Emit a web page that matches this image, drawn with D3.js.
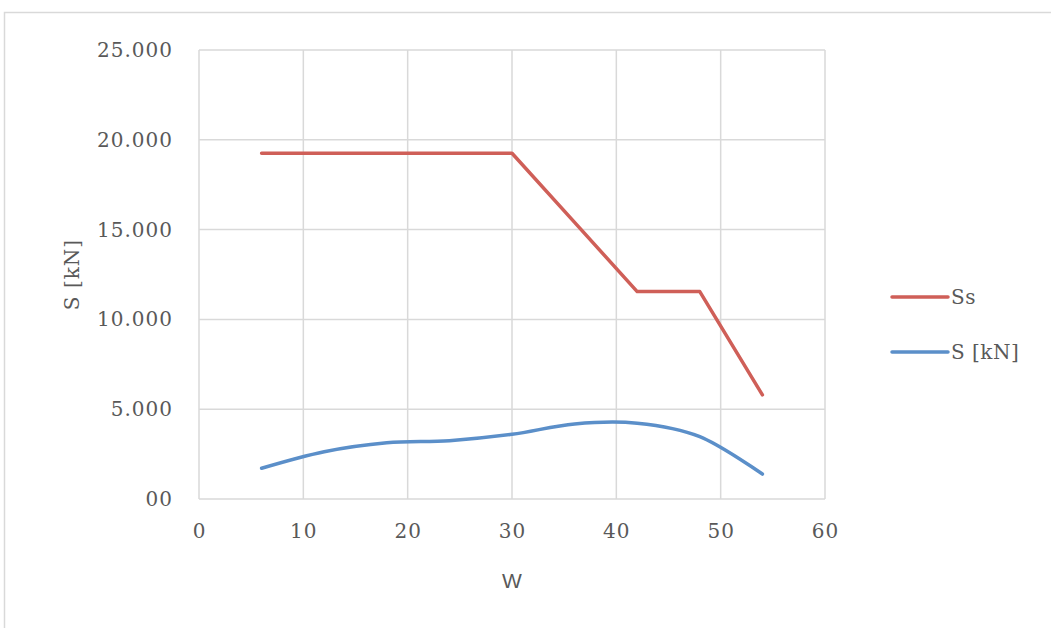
<!DOCTYPE html>
<html>
<head>
<meta charset="utf-8">
<script src="https://cdn.jsdelivr.net/npm/d3@7"></script>
<style>
  html, body { margin: 0; padding: 0; background: #fff; }
  svg { display: block; }
</style>
</head>
<body>
<svg id="chart" width="1051" height="628"></svg>
<script>
const wValues = [6, 12, 18, 24, 30, 36, 42, 48, 54];
const ssValues = [19250, 19250, 19250, 19250, 19250, 15400, 11550, 11550, 5800];
const sValues = [1710, 2630, 3130, 3250, 3600, 4180, 4220, 3470, 1390];
const xTicks = [0, 10, 20, 30, 40, 50, 60];
const yTicks = [0, 5000, 10000, 15000, 20000, 25000];
const yTickLabels = ["00", "5.000", "10.000", "15.000", "20.000", "25.000"];
const seriesNames = ["Ss", "S [kN]"];
const seriesColors = ["#cf5f58", "#5b8fc9"];

const serif = "'DejaVu Serif', 'Liberation Serif', serif";
const textColor = "#595959";

const svg = d3.select("#chart");
const plot = { left: 199, right: 825, top: 50, bottom: 499 };

// chart frame
svg.append("rect")
  .attr("x", 4.5).attr("y", 12.5)
  .attr("width", 1100).attr("height", 700)
  .attr("fill", "#fff").attr("stroke", "#d9d9d9").attr("stroke-width", 1.5);

const x = d3.scaleLinear().domain([0, 60]).range([plot.left, plot.right]);
const y = d3.scaleLinear().domain([0, 25000]).range([plot.bottom, plot.top]);

// gridlines
const grid = svg.append("g");
grid.selectAll("line.v").data(xTicks).join("line")
  .attr("x1", d => x(d)).attr("x2", d => x(d))
  .attr("y1", plot.top).attr("y2", plot.bottom)
  .attr("stroke", "#d9d9d9").attr("stroke-width", 1.5);
grid.selectAll("line.h").data(yTicks).join("line")
  .attr("x1", plot.left).attr("x2", plot.right)
  .attr("y1", d => y(d)).attr("y2", d => y(d))
  .attr("stroke", "#d9d9d9").attr("stroke-width", 1.5);

// axes labels via d3 axes
const xAxis = svg.append("g")
  .attr("transform", `translate(0,${plot.bottom})`)
  .call(d3.axisBottom(x).tickValues(xTicks).tickSize(0).tickPadding(25).tickFormat(d3.format("d")));
xAxis.select(".domain").remove();
xAxis.selectAll("text")
  .attr("font-family", serif).attr("letter-spacing", 1)
  .attr("font-size", 20).attr("fill", textColor);

const yAxis = svg.append("g")
  .attr("transform", `translate(${plot.left},0)`)
  .call(d3.axisLeft(y).tickValues(yTicks).tickSize(0).tickPadding(26)
    .tickFormat((d, i) => yTickLabels[i]));
yAxis.select(".domain").remove();
yAxis.selectAll("text")
  .attr("font-family", serif).attr("letter-spacing", 1)
  .attr("font-size", 20).attr("fill", textColor);

// axis titles
svg.append("text")
  .attr("x", (plot.left + plot.right) / 2).attr("y", 588)
  .attr("text-anchor", "middle")
  .attr("font-family", "'Liberation Sans', Arial, sans-serif")
  .attr("font-size", 21).attr("fill", textColor)
  .text("W");
svg.append("text")
  .attr("transform", `translate(79, ${(plot.top + plot.bottom) / 2}) rotate(-90)`)
  .attr("text-anchor", "middle")
  .attr("font-family", serif).attr("letter-spacing", 1)
  .attr("font-size", 20).attr("fill", textColor)
  .text("S [kN]");

// lines
const ssData = wValues.map((w, i) => [w, ssValues[i]]);
const sData = wValues.map((w, i) => [w, sValues[i]]);

svg.append("path")
  .datum(ssData)
  .attr("fill", "none")
  .attr("stroke", seriesColors[0]).attr("stroke-width", 3.5)
  .attr("stroke-linejoin", "round").attr("stroke-linecap", "round")
  .attr("d", d3.line().x(d => x(d[0])).y(d => y(d[1])));

svg.append("path")
  .datum(sData)
  .attr("fill", "none")
  .attr("stroke", seriesColors[1]).attr("stroke-width", 3.5)
  .attr("stroke-linejoin", "round").attr("stroke-linecap", "round")
  .attr("d", d3.line().curve(d3.curveCardinal.tension(0)).x(d => x(d[0])).y(d => y(d[1])));

// legend
const legendY = [297, 352];
const legend = svg.append("g");
seriesNames.forEach((name, i) => {
  legend.append("line")
    .attr("x1", 892).attr("x2", 948)
    .attr("y1", legendY[i]).attr("y2", legendY[i])
    .attr("stroke", seriesColors[i]).attr("stroke-width", 3.5)
    .attr("stroke-linecap", "round");
  legend.append("text")
    .attr("x", 951).attr("y", legendY[i] + 7)
    .attr("font-family", serif).attr("letter-spacing", 0.5)
    .attr("font-size", 20).attr("fill", textColor)
    .text(name);
});
</script>
</body>
</html>
